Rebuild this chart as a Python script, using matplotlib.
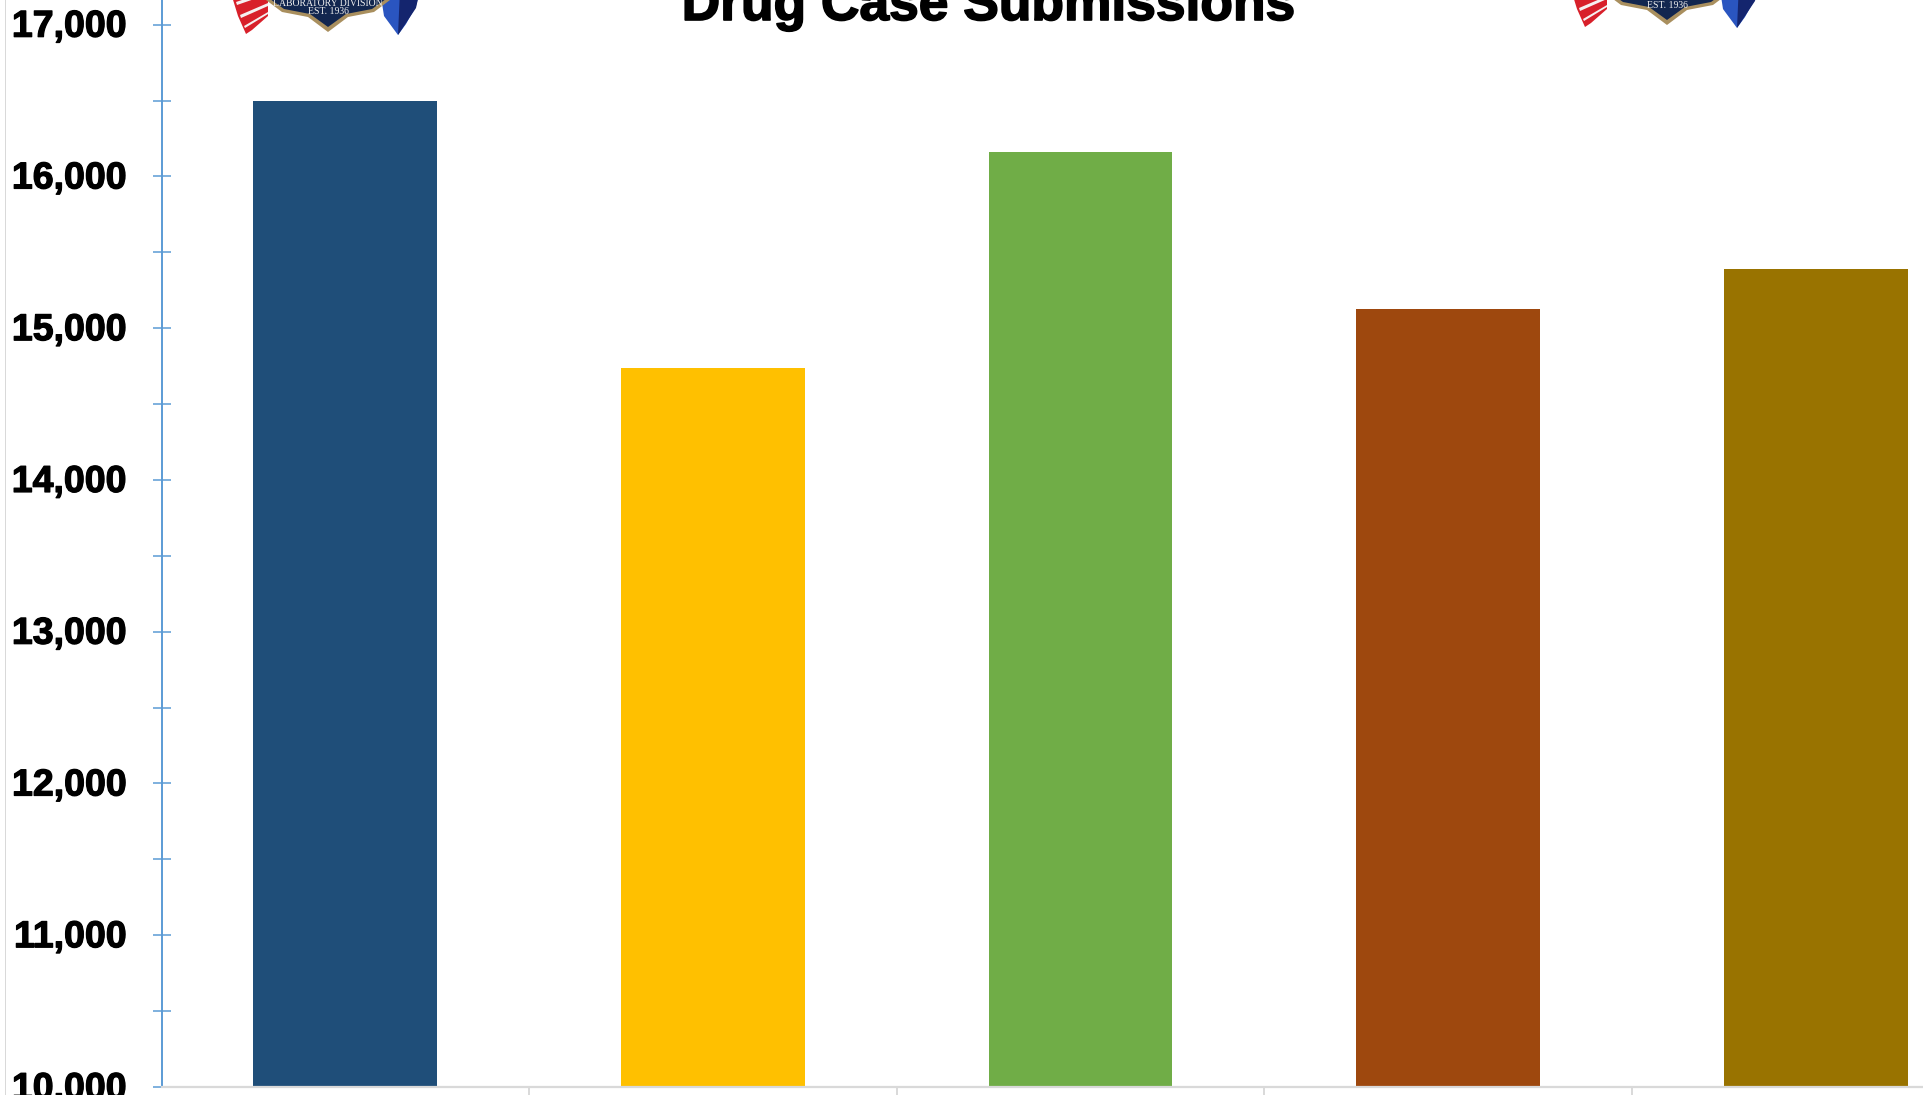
import matplotlib
matplotlib.use("Agg")
import matplotlib.pyplot as plt
import matplotlib.patheffects as pe
from matplotlib.patches import Polygon, Rectangle
from matplotlib.ticker import MultipleLocator, FuncFormatter
from matplotlib.transforms import ScaledTranslation

W, H = 1923, 1095

bar_values = [16497, 14739, 16161, 15127, 15393]
bar_colors = ["#1F4E79", "#FFC000", "#70AD47", "#9E480E", "#997300"]
title = "Drug Case Submissions"
logo_lines = ["LABORATORY DIVISION", "EST. 1936"]

plt.rcParams["font.family"] = ["Liberation Sans", "DejaVu Sans"]


def px(x, y):
    # pixel position (from top left) to figure fraction
    return x / W, 1 - y / H


def draw_logo(fig, left, top):
    # rough copy of the badge, left/top are the shield's left edge and a y offset
    def poly(points, color):
        fig.add_artist(Polygon([px(left + a, top + b) for a, b in points], closed=True,
                               transform=fig.transFigure, facecolor=color, edgecolor="none"))

    poly([(-36, -10), (2, -10), (2, 16), (-14, 30), (-20, 34), (-28, 16)], "#D8202A")
    poly([(-30, 2), (0, -8), (0, -5), (-29, 5)], "#F5F0F0")
    poly([(-26, 15), (2, 3), (2, 6), (-25, 18)], "#F5F0F0")
    poly([(-22, 26), (2, 12), (2, 14), (-21, 28)], "#F5F0F0")
    poly([(114, -10), (154, -10), (150, 6), (140, 24), (132, 35), (118, 16)], "#2A55C0")
    poly([(134, -10), (154, -10), (150, 8), (132, 35)], "#14256E")
    shield = [(0, -10), (124, -10), (124, 0), (108, 12), (82, 17), (62, 32), (42, 17), (16, 12), (0, 0)]
    poly(shield, "#A98F5E")
    inner = [(4, -10), (120, -10), (120, -1), (106, 9), (80, 14), (62, 27), (44, 14), (18, 9), (4, -1)]
    poly(inner, "#12264F")
    fig.text(*px(left + 62, top + 3), logo_lines[0], family="Liberation Serif", color="#EEEEEE",
             fontsize=7, ha="center", va="center")
    fig.text(*px(left + 62, top + 12), logo_lines[1], family="Liberation Serif", color="#EEEEEE",
             fontsize=7, ha="center", va="center")


fig = plt.figure(figsize=(W / 100, H / 100), dpi=100, facecolor="white")

# axes run past the right edge of the picture, the reference is cropped there
ax = fig.add_axes([161.7 / W, 1 - 1087 / H, (W - 161.7) / W, 1087 / H])
x = list(range(len(bar_values)))
ax.bar(x, bar_values, width=0.5, color=bar_colors, zorder=2)

ax.spines["top"].set_visible(False)
ax.spines["right"].set_visible(False)
ax.spines["left"].set_color("#5B9BD5")
ax.spines["left"].set_linewidth(1.4)
ax.spines["bottom"].set_color("#D9D9D9")
ax.spines["bottom"].set_linewidth(1.6)

ax.yaxis.set_major_locator(MultipleLocator(1000))
ax.yaxis.set_minor_locator(MultipleLocator(500))
ax.yaxis.set_major_formatter(FuncFormatter(lambda v, pos: f"{v:,.0f}"))
ax.tick_params(axis="y", which="both", direction="inout", length=12.5, width=1.1, color="#5B9BD5")
ax.tick_params(axis="y", which="major", pad=19)

# category boundaries get the ticks, no labels visible in the crop
ax.set_xticks([i - 0.5 for i in range(len(bar_values) + 1)])
ax.set_xticklabels([])
ax.tick_params(axis="x", length=7, width=1.4, color="#D9D9D9", direction="out")

# limits last, set_xticks would widen them again
ax.set_xlim(-0.498, -0.498 + (W - 161.7) / 367.8)
ax.set_ylim(10000, 17000 + 24.7 / 151.76 * 1000)

bold = [pe.withStroke(linewidth=0.9, foreground="black")]
up = ScaledTranslation(0, 2 / 100, fig.dpi_scale_trans)
for lab in ax.get_yticklabels():
    lab.set_fontsize(27)
    lab.set_fontweight("bold")
    lab.set_color("black")
    lab.set_path_effects(bold)
    lab.set_transform(lab.get_transform() + up)

# chart area border on the left
fig.add_artist(Rectangle(px(4.8, H), 1.6 / W, 1, transform=fig.transFigure,
                         facecolor="#D9D9D9", edgecolor="none"))

fig.text(*px(989, 20), title, fontsize=38.4, fontweight="bold", ha="center", va="baseline",
         color="black", path_effects=[pe.withStroke(linewidth=1.2, foreground="black")])

draw_logo(fig, 266, 0)
draw_logo(fig, 1605, -7)

fig.savefig("out.png", dpi=100, facecolor="white")
